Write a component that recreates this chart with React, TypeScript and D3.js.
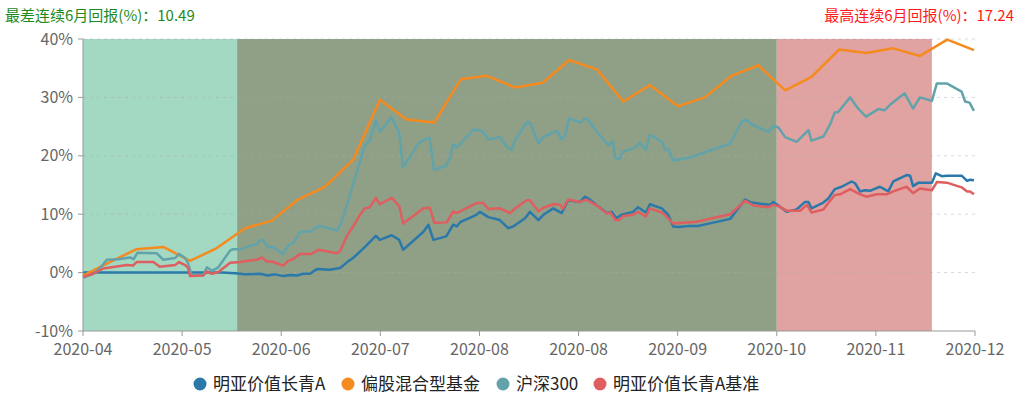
import React from "react";
import * as d3 from "d3";

const W = 1019;
const H = 405;

const xTickLabels = ["2020-04", "2020-05", "2020-06", "2020-07", "2020-08", "2020-08", "2020-09", "2020-10", "2020-11", "2020-12"];
const xTickPos = [0, 20, 40, 60, 80, 100, 120, 140, 160, 180];
const yTicks = [-10, 0, 10, 20, 30, 40];

const seriesNames = ["明亚价值长青A", "偏股混合型基金", "沪深300", "明亚价值长青A基准"];
const seriesColors = ["#2a79aa", "#f58a1f", "#62a3ab", "#df5e60"];

const bandRanges: [number, number][] = [[0, 31.1], [31.1, 140], [140, 171.3]];
const bandColors = ["#a3d8c2", "#8fa086", "#e1a2a2"];

const worstText = "最差连续6月回报(%)：10.49";
const bestText = "最高连续6月回报(%)：17.24";

const fundA: [number, number][] = [
  [0, 0], [28, 0], [30.7, -0.1], [32.7, -0.3], [35.7, -0.2], [37.3, -0.5], [38.7, -0.3], [40.4, -0.6], [41.8, -0.4],
  [43.2, -0.5], [44.4, -0.2], [45.8, -0.2], [47.2, 0.6], [49.8, 0.5], [51.9, 0.8], [53.3, 1.8], [54.5, 2.5],
  [55.9, 3.6], [56.9, 4.4], [59.1, 6.3], [59.9, 5.6], [62.3, 6.4], [63.8, 5.6], [64.6, 3.9], [68.7, 7.0], [69.7, 8.2],
  [70.7, 5.6], [73.3, 6.2], [74.7, 8.2], [75.4, 7.9], [76.2, 8.7], [79.4, 9.9], [80.1, 10.4], [81.8, 9.5], [84.1, 9.0],
  [85.8, 7.6], [86.8, 7.9], [89.2, 9.3], [90.2, 10.4], [91.9, 9.0], [92.9, 9.9], [94.9, 11.0], [96.6, 10.2],
  [97.9, 12.4], [100.3, 12.1], [101.3, 13.0], [102.3, 12.5], [104.0, 11.3], [105.7, 10.2], [106.7, 10.4], [107.6, 9.3],
  [108.7, 9.9], [111.0, 10.4], [112.0, 11.2], [113.6, 10.3], [114.4, 11.7], [116.8, 11.0], [118.1, 9.9], [119.1, 7.9],
  [120.1, 7.8], [122.5, 8.0], [124.2, 8.0], [130.6, 9.2], [133.6, 12.5], [134.9, 12.0], [136.6, 11.8], [138.6, 11.6],
  [139.3, 12.1], [140.3, 11.5], [142.0, 10.4], [144.0, 10.8], [145.7, 12.1], [146.4, 12.1], [147.0, 11.0], [149.4, 12.0],
  [150.4, 12.7], [151.7, 14.3], [153.1, 14.7], [155.1, 15.6], [155.8, 15.3], [156.8, 13.9], [157.8, 14.1], [158.8, 14.0],
  [160.8, 14.7], [162.5, 13.9], [163.5, 15.6], [166.2, 16.7], [166.9, 16.6], [167.5, 14.8], [168.6, 15.4], [171.3, 15.4],
  [172.1, 17.0], [173.3, 16.5], [174.3, 16.6], [177.3, 16.6], [178.4, 15.7], [179.0, 15.9], [179.8, 15.8],
];

const mixedFund: [number, number][] = [
  [0, -0.5], [5.4, 1.8], [10.8, 4.0], [16.2, 4.4], [21.6, 2.0], [27.0, 4.2], [32.7, 7.6], [38.1, 8.9], [43.4, 12.5],
  [48.8, 14.7], [54.5, 19.3], [59.9, 29.6], [65.3, 26.2], [70.9, 25.7], [76.2, 33.1], [81.5, 33.7], [87.2, 31.7],
  [92.8, 32.5], [98.1, 36.4], [103.7, 34.8], [109.0, 29.3], [114.4, 32.1], [120.1, 28.5], [125.5, 30.0], [130.9, 33.7],
  [136.3, 35.5], [141.7, 31.2], [147.0, 33.5], [152.6, 38.2], [158.1, 37.6], [163.5, 38.4], [168.9, 37.1], [174.4, 39.9],
  [179.8, 38.1],
];

const hs300: [number, number][] = [
  [0, -0.9], [2.1, -0.2], [3.4, 0.7], [4.8, 2.2], [7.1, 2.3], [9.5, 2.6], [10.2, 2.3], [11.0, 3.4], [14.9, 3.3],
  [16.2, 2.2], [18.6, 2.5], [19.4, 3.2], [20.6, 2.5], [21.2, 1.6], [21.9, -0.4], [24.3, -0.4], [25.0, 0.9], [26.0, 0.3],
  [27.3, 0.9], [29.7, 3.8], [30.3, 4.0], [32.0, 4.0], [33.0, 4.4], [35.1, 4.9], [35.7, 5.6], [36.4, 5.5], [37.4, 4.3],
  [38.4, 4.4], [40.4, 3.2], [41.4, 4.7], [42.4, 5.0], [43.8, 7.0], [45.8, 7.0], [47.5, 8.0], [49.2, 7.7], [51.2, 7.2],
  [52.2, 8.7], [56.9, 21.8], [57.9, 22.7], [59.1, 26.1], [59.9, 24.1], [62.3, 26.6], [63.8, 23.9], [64.6, 18.0],
  [67.7, 22.1], [69.4, 23.0], [70.0, 23.0], [70.8, 17.6], [73.3, 18.3], [74.1, 19.8], [74.7, 22.0], [75.4, 21.4],
  [78.8, 24.5], [80.5, 24.3], [81.8, 22.8], [84.1, 23.2], [85.8, 21.3], [86.5, 21.0], [87.2, 22.7], [89.5, 25.7],
  [90.2, 25.7], [91.9, 22.1], [92.9, 23.2], [95.6, 24.3], [96.6, 22.8], [97.3, 23.6], [98.1, 26.4], [100.3, 25.7],
  [101.3, 26.4], [101.9, 26.2], [103.7, 24.1], [106.0, 21.8], [106.9, 22.5], [107.4, 19.7], [108.2, 19.4], [109.0, 20.7],
  [111.4, 21.4], [112.4, 22.2], [113.6, 21.0], [114.4, 23.6], [116.8, 22.4], [117.5, 21.0], [118.1, 21.2], [119.1, 19.2],
  [122.5, 19.7], [130.6, 22.1], [132.9, 25.8], [133.8, 26.2], [134.9, 25.4], [138.3, 24.1], [139.3, 25.1], [140.3, 24.9],
  [141.7, 23.2], [144.0, 22.4], [146.4, 24.4], [147.0, 22.6], [149.4, 23.3], [150.7, 25.3], [151.7, 27.4], [152.4, 27.5],
  [154.8, 30.0], [156.4, 28.1], [158.0, 26.7], [160.5, 28.0], [161.8, 27.8], [162.8, 28.7], [165.8, 30.7], [167.5, 28.1],
  [168.9, 30.0], [171.3, 29.4], [172.3, 32.4], [174.3, 32.4], [177.3, 31.0], [178.0, 29.3], [178.9, 29.1], [179.8, 27.7],
];

const benchmark: [number, number][] = [
  [0, -0.7], [2.1, -0.2], [4.1, 0.7], [8.8, 1.3], [10.1, 1.2], [10.8, 1.8], [14.2, 1.8], [15.5, 1.0], [18.6, 1.3],
  [19.4, 1.8], [20.6, 1.3], [21.2, 0.8], [21.6, -0.6], [24.3, -0.5], [25.0, 0.2], [26.0, -0.2], [27.3, 0.1], [29.7, 1.7],
  [31.7, 1.8], [33.0, 2.0], [35.1, 2.2], [36.1, 2.6], [37.1, 1.9], [38.1, 1.9], [40.4, 1.2], [41.4, 2.0], [42.4, 2.3],
  [43.8, 3.2], [46.1, 3.2], [47.5, 3.9], [51.2, 3.3], [51.9, 3.7], [53.2, 6.2], [54.5, 7.9], [55.9, 9.9], [56.9, 11.0],
  [57.9, 11.2], [59.1, 12.8], [59.9, 11.7], [62.3, 12.8], [63.8, 11.4], [64.6, 8.4], [68.7, 11.0], [70.0, 11.1],
  [70.9, 8.5], [73.4, 8.6], [74.7, 10.5], [75.4, 10.2], [79.4, 11.9], [80.8, 11.9], [81.8, 10.9], [84.1, 11.0],
  [86.2, 10.2], [87.2, 11.0], [89.5, 12.4], [90.2, 12.4], [91.9, 10.5], [92.9, 11.1], [94.9, 11.7], [96.3, 11.6],
  [96.8, 10.9], [97.9, 12.5], [100.3, 12.1], [101.6, 12.5], [104.0, 11.3], [105.7, 10.1], [106.4, 10.3], [107.4, 9.0],
  [108.2, 9.0], [109.0, 9.7], [111.0, 9.9], [112.0, 10.4], [113.6, 9.6], [114.4, 11.0], [116.8, 10.3], [117.5, 9.8],
  [119.1, 8.4], [123.8, 8.7], [130.6, 10.0], [133.6, 12.3], [135.3, 11.5], [138.3, 11.2], [139.3, 11.6], [140.6, 11.3],
  [142.0, 10.6], [144.7, 10.6], [146.1, 11.6], [147.0, 10.3], [149.4, 10.8], [150.4, 11.9], [151.7, 13.3], [152.8, 13.4],
  [154.8, 14.3], [156.8, 13.4], [158.1, 13.0], [160.2, 13.4], [162.2, 13.4], [163.5, 13.9], [166.2, 14.7], [167.5, 13.6],
  [168.9, 14.4], [171.3, 14.1], [172.3, 15.5], [174.3, 15.4], [177.3, 14.6], [178.4, 13.9], [179.0, 13.9], [179.8, 13.4],
];

const allSeries = [fundA, mixedFund, hs300, benchmark];

const FONT = "'Noto Sans CJK SC', 'Noto Sans', sans-serif";

export default function App() {
  const margin = { left: 83, right: W - 975, top: 39, bottom: H - 331 };
  const x = d3.scaleLinear().domain([0, 180]).range([margin.left, W - margin.right]);
  const y = d3.scaleLinear().domain([-10, 40]).range([H - margin.bottom, margin.top]);
  const line = d3
    .line<[number, number]>()
    .x((d) => x(d[0]))
    .y((d) => y(d[1]));

  const legendX = [200, 348, 503, 600];

  return (
    <svg
      width={W}
      height={H}
      style={{ position: "absolute", left: 0, top: 0, background: "#fff", fontFamily: FONT }}
    >
      {bandRanges.map((b, i) => (
        <rect key={i} x={x(b[0])} y={y(40)} width={x(b[1]) - x(b[0])} height={y(-10) - y(40)} fill={bandColors[i]} />
      ))}
      {yTicks
        .filter((t) => t !== -10)
        .map((t) => (
          <line
            key={t}
            x1={x(0)}
            x2={x(180)}
            y1={y(t)}
            y2={y(t)}
            stroke="#aaa"
            strokeOpacity={0.45}
            strokeDasharray="3 4"
          />
        ))}
      {allSeries.map((s, i) => (
        <path key={i} d={line(s) || ""} fill="none" stroke={seriesColors[i]} strokeWidth={2.5} strokeLinejoin="round" />
      ))}
      {/* Y axis */}
      <line x1={x(0)} x2={x(0)} y1={y(40)} y2={y(-10)} stroke="#999" />
      {yTicks.map((t) => (
        <g key={t}>
          <line x1={x(0) - 5} x2={x(0)} y1={y(t)} y2={y(t)} stroke="#999" />
          <text x={x(0) - 10} y={y(t)} dy="0.35em" textAnchor="end" fontSize={16} fill="#666">
            {`${t}%`}
          </text>
        </g>
      ))}
      {/* X axis */}
      <line x1={x(0)} x2={x(180)} y1={y(-10)} y2={y(-10)} stroke="#999" />
      {xTickPos.map((p, i) => (
        <g key={i}>
          <line x1={x(p)} x2={x(p)} y1={y(-10)} y2={y(-10) + 5} stroke="#999" />
          <text x={x(p)} y={y(-10) + 24} textAnchor="middle" fontSize={16} fill="#666">
            {xTickLabels[i]}
          </text>
        </g>
      ))}
      {/* header texts */}
      <text x={5} y={21} fontSize={15} fill="#1d8a1d">
        {worstText}
      </text>
      <text x={1014} y={21} fontSize={15} fill="#ff1a1a" textAnchor="end">
        {bestText}
      </text>
      {/* legend */}
      {seriesNames.map((n, i) => (
        <g key={n}>
          <circle cx={legendX[i]} cy={384} r={6.5} fill={seriesColors[i]} />
          <text x={legendX[i] + 13} y={384} dy="0.36em" fontSize={17} fill="#222">
            {n}
          </text>
        </g>
      ))}
    </svg>
  );
}
